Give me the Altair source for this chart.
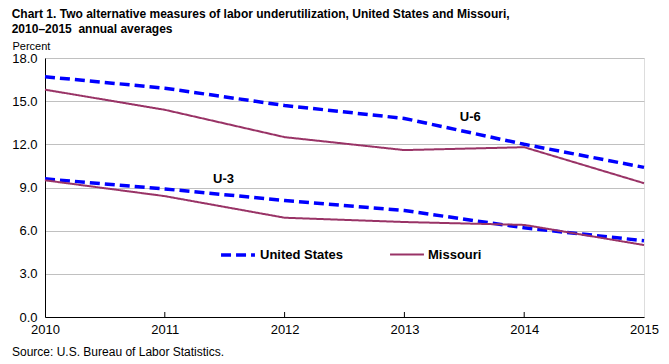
import altair as alt
import pandas as pd

years = [2010, 2011, 2012, 2013, 2014, 2015]
us_u6 = [16.7, 15.9, 14.7, 13.8, 12.0, 10.4]
mo_u6 = [15.8, 14.4, 12.5, 11.6, 11.8, 9.3]
us_u3 = [9.6, 8.9, 8.1, 7.4, 6.2, 5.3]
mo_u3 = [9.5, 8.4, 6.9, 6.6, 6.4, 5.0]
series_names = ["United States", "Missouri"]
series_colors = ["#0000FF", "#993366"]
y_ticks = [0, 3, 6, 9, 12, 15, 18]
annot_text = ["U-6", "U-3"]
annot_x = [2013.55, 2011.49]
annot_y = [13.9, 9.6]
title_lines = ["Chart 1. Two alternative measures of labor underutilization, United States and Missouri,",
               "2010\u20132015\u00a0 annual averages"]
source_text = ["Source: U.S. Bureau of Labor Statistics."]

rows = []
for name, meas, vals in [("United States", "U-6", us_u6), ("Missouri", "U-6", mo_u6),
                         ("United States", "U-3", us_u3), ("Missouri", "U-3", mo_u3)]:
    for yr, v in zip(years, vals):
        rows.append({"year": yr, "value": v, "series": name, "measure": meas})
df = pd.DataFrame(rows)
ann = pd.DataFrame({"year": annot_x, "value": annot_y, "label": annot_text})
src = pd.DataFrame({"label": source_text})
tick_df = pd.DataFrame({"year": years[1:-1]})

W, H = 599, 259
FONT = "Liberation Sans"

xscale = alt.Scale(domain=[2010, 2015], nice=False, zero=False)
yscale = alt.Scale(domain=[0, 18], nice=False)

x = alt.X("year:Q", scale=xscale,
          axis=alt.Axis(values=years, format="d", title=None, grid=False, ticks=False,
                        labelFontSize=13, labelPadding=6, labelColor="black",
                        domainColor="black", labelFlush=False))
y = alt.Y("value:Q", scale=yscale,
          axis=alt.Axis(values=y_ticks, format=".1f", title="Percent", titleAngle=0,
                        titleAlign="left", titleBaseline="middle", titleX=-33, titleY=-12,
                        titleFontSize=11, titleFontWeight="normal", titleColor="black",
                        ticks=False, labelPadding=8, labelFontSize=13, labelColor="black",
                        gridColor="#C0C0C0", domainColor="black"))

leg = alt.Legend(title=None, orient="none", legendX=174, legendY=178, direction="horizontal",
                 symbolType="stroke", symbolSize=1150, labelFontSize=13, labelFontWeight="bold",
                 labelColor="black", columnPadding=42, labelOffset=3)

lines = alt.Chart(df).mark_line().encode(
    x=x, y=y,
    color=alt.Color("series:N", scale=alt.Scale(domain=series_names, range=series_colors), legend=leg),
    strokeDash=alt.StrokeDash("series:N", scale=alt.Scale(domain=series_names, range=[[10, 5], [1, 0]]), legend=leg),
    strokeWidth=alt.StrokeWidth("series:N", scale=alt.Scale(domain=series_names, range=[3.5, 2]), legend=leg),
    detail="measure:N",
)

xticks = alt.Chart(tick_df).mark_rule(color="black", strokeWidth=1).encode(
    x=alt.X("year:Q", scale=xscale), y=alt.value(H), y2=alt.value(H - 5))

labels = alt.Chart(ann).mark_text(font=FONT, fontSize=13, fontWeight="bold", color="black").encode(
    x=alt.X("year:Q", scale=xscale), y=alt.Y("value:Q", scale=yscale), text="label:N")

source = alt.Chart(src).mark_text(font=FONT, fontSize=12, color="black", align="left",
                                  baseline="middle").encode(
    x=alt.value(-33), y=alt.value(H + 35), text="label:N")

chart = alt.layer(lines, xticks, labels, source).properties(
    width=W, height=H,
    title=alt.TitleParams(text=title_lines, anchor="start", dx=0, dy=4, fontSize=12, font=FONT,
                          fontWeight="bold", lineHeight=15, color="black", offset=8),
    autosize=alt.AutoSizeParams(type="none"),
    padding={"left": 37, "top": 50, "right": 17, "bottom": 48},
).configure_view(stroke="black", strokeWidth=1).configure(font=FONT).configure_axis(
    labelFont=FONT, titleFont=FONT).configure_legend(labelFont=FONT)

chart.save("out.html", embed_options={"renderer": "svg", "actions": False})
